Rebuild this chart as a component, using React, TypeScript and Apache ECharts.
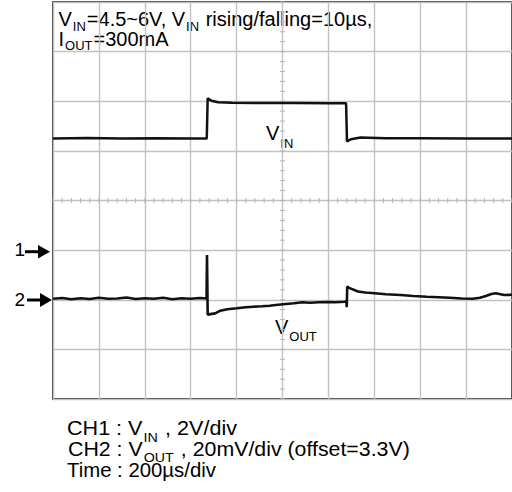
import React, { useEffect, useRef } from "react";
import * as echarts from "echarts";

// Time axis (µs), 200 µs/div
const timeMin = 0;
const timeMax = 2000;
const timeStep = 200;

// CH1: VIN in volts, 2 V/div, ground marker at 3 div from bottom
const ch1Min = -6;
const ch1Max = 10;
const ch1Step = 2;

// CH2: VOUT in mV relative to the 3.3 V offset, 20 mV/div, marker at 2 div
const ch2Min = -40;
const ch2Max = 120;
const ch2Step = 20;

const vinTime = [0, 150, 300, 450, 600, 670, 674, 690, 720, 780, 900, 1050, 1200, 1277, 1281, 1298, 1340, 1450, 1600, 1800, 2000];
const vinVolts = [4.5, 4.52, 4.5, 4.51, 4.5, 4.5, 6.12, 6.02, 5.96, 5.94, 5.93, 5.93, 5.92, 5.92, 4.38, 4.47, 4.54, 4.51, 4.51, 4.5, 4.5];

const voutTime = [0, 40, 80, 120, 160, 200, 240, 280, 320, 360, 400, 440, 480, 520, 560, 600, 640, 669, 671, 674, 685, 707, 729, 760, 801, 840, 872, 910, 944, 980, 1015, 1050, 1087, 1120, 1158, 1200, 1229, 1272, 1278, 1280, 1282, 1290, 1329, 1360, 1401, 1450, 1515, 1570, 1629, 1680, 1729, 1780, 1829, 1860, 1886, 1910, 1929, 1966, 2000];
const voutMv = [0.4, 0.7, 0.2, 0.6, 0.3, 0.8, 0.4, 0.5, 0.9, 0.3, 0.6, 0.4, 0.8, 0.2, 0.6, 0.4, 0.7, 0.5, 18, -6.0, -5.8, -5.5, -4.4, -3.8, -3.4, -3.0, -2.8, -2.6, -2.4, -2.0, -1.7, -1.4, -1.0, -1.2, -1.0, -0.9, -1.0, -0.8, -0.6, -3.0, 5.3, 4.8, 3.3, 2.9, 2.6, 2.2, 1.9, 1.5, 1.2, 1.0, 0.8, 0.5, 0.4, 0.8, 1.5, 2.3, 2.6, 1.9, 2.0];

// Minor graticule marks along the centre lines (time in µs, CH1 volts)
const centreTime = 1000;
const centreVolts = 2;
const minorTimes = Array.from({ length: 51 }, (_, i) => i * 40);
const minorVolts = Array.from({ length: 41 }, (_, i) => -6 + i * 0.4);

const FAMILY = '"Liberation Sans", Arial, sans-serif';

type Part = [string, boolean];

function textRun(
  ctx: CanvasRenderingContext2D,
  x0: number,
  baseline: number,
  parts: Part[],
  size: number,
  subSize: number,
  subDrop: number,
  targetWidth?: number
) {
  const els: any[] = [];
  let x = 0;
  parts.forEach(([t, sub], i) => {
    const fs = sub ? subSize : size;
    const b = sub ? baseline + subDrop : baseline;
    els.push({
      type: "text",
      x,
      y: b - 0.3465 * fs,
      silent: true,
      style: {
        text: t,
        fontSize: fs,
        fontFamily: FAMILY,
        fill: "#000",
        align: "left",
        verticalAlign: "middle",
        textAlign: "left",
        textVerticalAlign: "middle",
      },
    });
    ctx.font = `${fs}px ${FAMILY}`;
    x += ctx.measureText(t).width + (i < parts.length - 1 ? 1 : 0);
  });
  const scaleX = targetWidth ? targetWidth / x : 1;
  return { type: "group", x: x0, y: 0, scaleX, silent: true, children: els };
}

export default function App() {
  const ref = useRef<HTMLDivElement>(null);
  useEffect(() => {
    if (!ref.current) return;
    const chart = echarts.init(ref.current, undefined, { renderer: "svg" });
    const canvas = document.createElement("canvas");
    const ctx = canvas.getContext("2d")!;

    const graphics: any[] = [
      textRun(ctx, 58.5, 26.2, [["V", false], ["IN", true], ["=4.5~6V, V", false], ["IN", true], [" rising/falling=10µs,", false]], 20, 13, 5),
      textRun(ctx, 58.5, 46.4, [["I", false], ["OUT", true], ["=300mA", false]], 20, 13, 4),
      textRun(ctx, 266, 140, [["V", false], ["IN", true]], 20, 13, 8),
      textRun(ctx, 275, 333.5, [["V", false], ["OUT", true]], 20, 13, 8),
      textRun(ctx, 67, 435, [["CH1 : V", false], ["IN", true], [" , 2V/div", false]], 19.5, 13, 7, 170),
      textRun(ctx, 68, 455.7, [["CH2 : V", false], ["OUT", true], [" , 20mV/div (offset=3.3V)", false]], 19.5, 13, 7, 342),
      textRun(ctx, 67, 476.5, [["Time : 200µs/div", false]], 19.5, 13, 7, 149),
      textRun(ctx, 14.5, 256.5, [["1", false]], 19, 12, 0),
      textRun(ctx, 14.5, 306, [["2", false]], 19, 12, 0),
      { type: "line", silent: true, shape: { x1: 25, y1: 251.7, x2: 40, y2: 251.7 }, style: { stroke: "#000", lineWidth: 3 } },
      { type: "polygon", silent: true, shape: { points: [[38, 245], [50, 251.7], [38, 258.5]] }, style: { fill: "#000" } },
      { type: "line", silent: true, shape: { x1: 27, y1: 300, x2: 41, y2: 300 }, style: { stroke: "#000", lineWidth: 3 } },
      { type: "polygon", silent: true, shape: { points: [[40, 293], [52, 300], [40, 307]] }, style: { fill: "#000" } },
    ];

    const tickData: number[][] = [
      ...minorTimes.map((t) => [t, centreVolts, 0]),
      ...minorVolts.map((v) => [centreTime, v, 1]),
    ];

    chart.setOption({
      animation: false,
      backgroundColor: "#fff",
      grid: {
        left: 53,
        top: 2,
        width: 466,
        height: 397,
        show: true,
        borderColor: "#000",
        borderWidth: 1.5,
        backgroundColor: "transparent",
      },
      xAxis: {
        type: "value",
        min: timeMin,
        max: timeMax,
        interval: timeStep,
        axisLine: { show: false },
        axisTick: { show: false },
        axisLabel: { show: false },
        splitLine: { show: true, lineStyle: { color: "#c2c2c2", width: 1.4 } },
      },
      yAxis: [
        {
          type: "value",
          min: ch1Min,
          max: ch1Max,
          interval: ch1Step,
          axisLine: { show: false },
          axisTick: { show: false },
          axisLabel: { show: false },
          splitLine: { show: true, lineStyle: { color: "#c2c2c2", width: 1.4 } },
        },
        {
          type: "value",
          min: ch2Min,
          max: ch2Max,
          interval: ch2Step,
          axisLine: { show: false },
          axisTick: { show: false },
          axisLabel: { show: false },
          splitLine: { show: false },
        },
      ],
      series: [
        {
          name: "graticule",
          type: "custom",
          yAxisIndex: 0,
          silent: true,
          z: 1,
          data: tickData,
          renderItem: (params: any, api: any) => {
            const p = api.coord([api.value(0), api.value(1)]);
            const horiz = api.value(2) === 0;
            return {
              type: "line",
              shape: horiz
                ? { x1: p[0], y1: p[1] - 2.5, x2: p[0], y2: p[1] + 2.5 }
                : { x1: p[0] - 2.5, y1: p[1], x2: p[0] + 2.5, y2: p[1] },
              style: { stroke: "#b5b5b5", lineWidth: 1 },
            };
          },
        },
        {
          name: "VIN",
          type: "line",
          yAxisIndex: 0,
          showSymbol: false,
          symbol: "none",
          z: 3,
          data: vinTime.map((t, i) => [t, vinVolts[i]]),
          lineStyle: { color: "#111", width: 2.5 },
        },
        {
          name: "VOUT",
          type: "line",
          yAxisIndex: 1,
          showSymbol: false,
          symbol: "none",
          z: 3,
          data: voutTime.map((t, i) => [t, voutMv[i]]),
          lineStyle: { color: "#111", width: 2.6 },
        },
      ],
      graphic: graphics,
    });
    return () => chart.dispose();
  }, []);
  return (
    <div
      ref={ref}
      style={{ position: "fixed", left: 0, top: 0, width: 512, height: 492 }}
    />
  );
}
